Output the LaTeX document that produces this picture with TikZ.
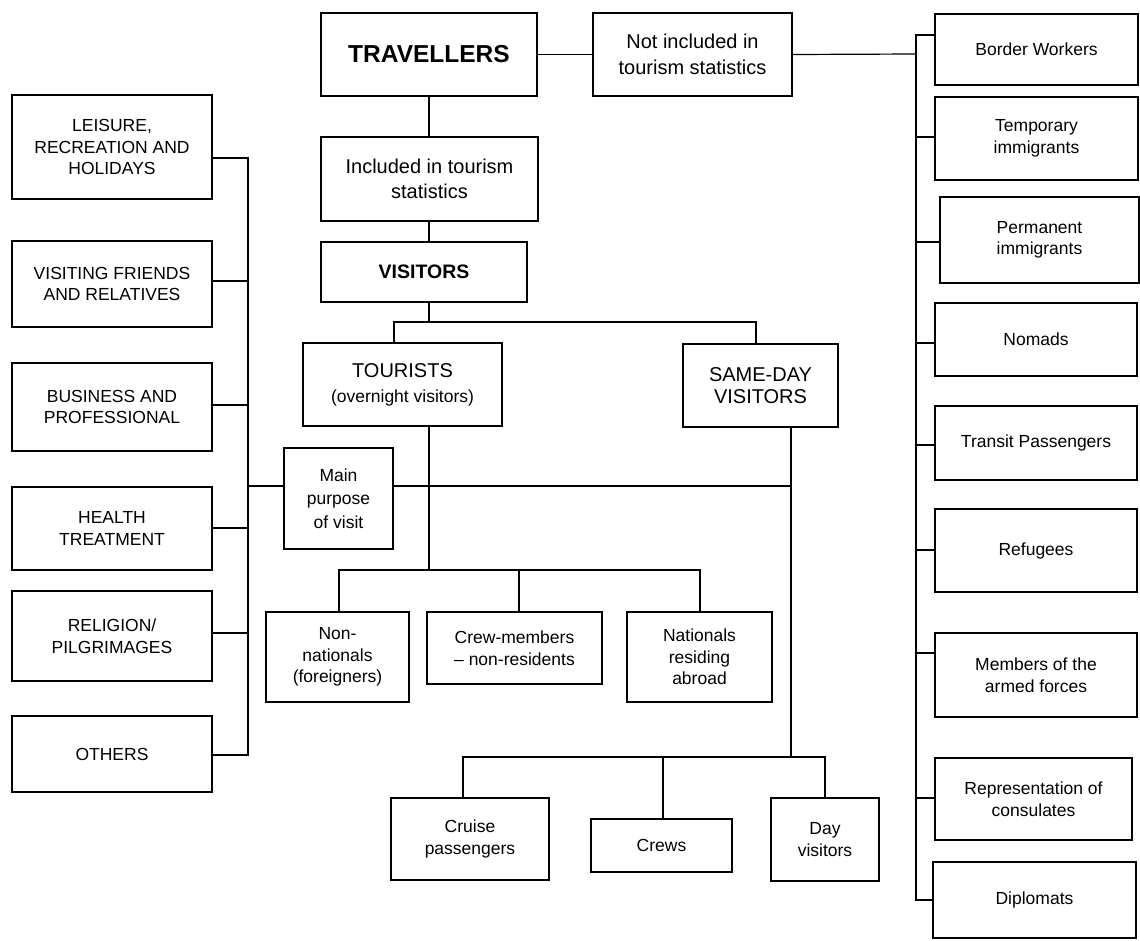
\documentclass[tikz,border=0pt]{standalone}
\usepackage{fontspec}
\setmainfont{Liberation Sans}
\tikzset{
  x=1pt,y=-1pt,
  box/.style={draw,line width=1.2pt,inner sep=0pt,align=center,font=\fontsize{17.5}{21.5}\selectfont},
  bigtxt/.style={font=\fontsize{20}{25.5}\selectfont},
  conn/.style={line width=1.2pt},
}
\newcommand\mkbox[7]{%
  \node[box,#7,minimum width={#4-#2},minimum height={#5-#3}] (#1) at ({(#2+#4)/2},{(#3+#5)/2}) {#6};}
\begin{document}
\begin{tikzpicture}
\useasboundingbox[fill=white] (0,0) rectangle (1140,940);
% top
\mkbox{trav}{321}{13}{537}{96}{TRAVELLERS}{font=\fontsize{24.5}{28}\selectfont\bfseries}
\mkbox{notinc}{593}{13}{792}{96}{Not included in\\tourism statistics}{bigtxt}
\mkbox{incl}{321}{137}{538}{221}{Included in tourism\\statistics}{bigtxt}
\mkbox{vis}{321}{242}{527}{302}{VISITORS}{font=\fontsize{19.5}{24}\selectfont\bfseries}
\mkbox{tour}{303}{343}{502}{426}{TOURISTS\\{\fontsize{17.5}{21}\selectfont(overnight visitors)}}{font=\fontsize{20}{25}\selectfont}
\mkbox{sdv}{683}{344}{838}{427}{SAME-DAY\\VISITORS}{font=\fontsize{20}{22}\selectfont}
\mkbox{main}{284}{448}{393}{549}{Main\\purpose\\of visit}{font=\fontsize{17.5}{23.5}\selectfont}
% tourists sub
\mkbox{nonnat}{266}{612}{409}{702}{Non-\\nationals\\(foreigners)}{}
\mkbox{crew}{427}{612}{602}{684}{Crew-members\\– non-residents}{}
\mkbox{nat}{627}{612}{772}{702}{Nationals\\residing\\abroad}{}
% same-day sub
\mkbox{cruise}{391}{798}{549}{880}{Cruise\\passengers}{}
\mkbox{crews}{591}{819}{732}{872}{Crews}{}
\mkbox{day}{771}{798}{879}{881}{Day\\visitors}{}
% left column
\mkbox{leis}{12}{95}{212}{199}{LEISURE,\\RECREATION AND\\HOLIDAYS}{}
\mkbox{vfr}{12}{241}{212}{327}{VISITING FRIENDS\\AND RELATIVES}{}
\mkbox{bus}{12}{363}{212}{451}{BUSINESS AND\\PROFESSIONAL}{}
\mkbox{health}{12}{487}{212}{570}{HEALTH\\TREATMENT}{}
\mkbox{relig}{12}{591}{212}{681}{RELIGION/\\PILGRIMAGES}{}
\mkbox{others}{12}{716}{212}{792}{OTHERS}{}
% right column
\mkbox{bw}{935}{14}{1138}{85}{Border Workers}{}
\mkbox{tmp}{935}{97}{1138}{180}{Temporary\\immigrants}{}
\mkbox{perm}{940}{197}{1139}{283}{Permanent\\immigrants}{}
\mkbox{nom}{935}{303}{1137}{376}{Nomads}{}
\mkbox{trans}{935}{406}{1137}{480}{Transit Passengers}{}
\mkbox{ref}{935}{509}{1137}{592}{Refugees}{}
\mkbox{mem}{935}{633}{1137}{717}{Members of the\\armed forces}{}
\mkbox{rep}{935}{758}{1132}{840}{Representation of\\consulates}{}
\mkbox{dip}{933}{862}{1136}{938}{Diplomats}{}
% coordinates
\coordinate (vb) at (429,322);
\coordinate (b1) at (394,322);
\coordinate (b2) at (756,322);
\coordinate (tv) at (429,570);
\coordinate (s1) at (339,570);
\coordinate (s2) at (519,570);
\coordinate (s3) at (700,570);
\coordinate (sv) at (791,757);
\coordinate (d1) at (463,757);
\coordinate (d2) at (663,757);
\coordinate (d3) at (825,757);
\coordinate (mp) at (791,486);
\coordinate (lmain) at (248,486);
\coordinate (l1) at (248,158);
\coordinate (l2) at (248,281);
\coordinate (l3) at (248,405);
\coordinate (l4) at (248,528);
\coordinate (l5) at (248,633);
\coordinate (l6) at (248,755);
\coordinate (r0) at (916,54);
\coordinate (r1) at (916,35);
\coordinate (r2) at (916,137);
\coordinate (r3) at (916,242);
\coordinate (r4) at (916,343);
\coordinate (r5) at (916,445);
\coordinate (r6) at (916,550);
\coordinate (r7) at (916,653);
\coordinate (r8) at (916,798);
\coordinate (r9) at (916,900);
% connectors top
\begin{scope}[conn]
\draw (trav.east) -- (notinc.west);
\draw (trav.south -| vb) -- (incl.north -| vb);
\draw (incl.south -| vb) -- (vis.north -| vb);
\draw (vis.south -| vb) -- (vb);
\draw (tour.north -| b1) |- (b2) -- (sdv.north -| b2);
\draw (tour.south -| tv) -- (tv);
\draw (nonnat.north -| s1) |- (s3) -- (nat.north -| s3);
\draw (s2) -- (crew.north -| s2);
\draw (sdv.south -| sv) -- (sv);
\draw (cruise.north -| d1) |- (d3) -- (day.north -| d3);
\draw (d2) -- (crews.north -| d2);
\draw (main.east |- mp) -- (mp);
\draw (lmain) -- (main.west |- lmain);
% left column
\draw (leis.east |- l1) -- (l1) -- (l6) -- (others.east |- l6);
\draw (vfr.east |- l2) -- (l2);
\draw (bus.east |- l3) -- (l3);
\draw (health.east |- l4) -- (l4);
\draw (relig.east |- l5) -- (l5);
% right column
\draw (notinc.east) -- (r0);
\draw (bw.west |- r1) -- (r1) -- (r9) -- (dip.west |- r9);
\draw (r2) -- (tmp.west |- r2);
\draw (r3) -- (perm.west |- r3);
\draw (r4) -- (nom.west |- r4);
\draw (r5) -- (trans.west |- r5);
\draw (r6) -- (ref.west |- r6);
\draw (r7) -- (mem.west |- r7);
\draw (r8) -- (rep.west |- r8);
\end{scope}
\end{tikzpicture}
\end{document}
